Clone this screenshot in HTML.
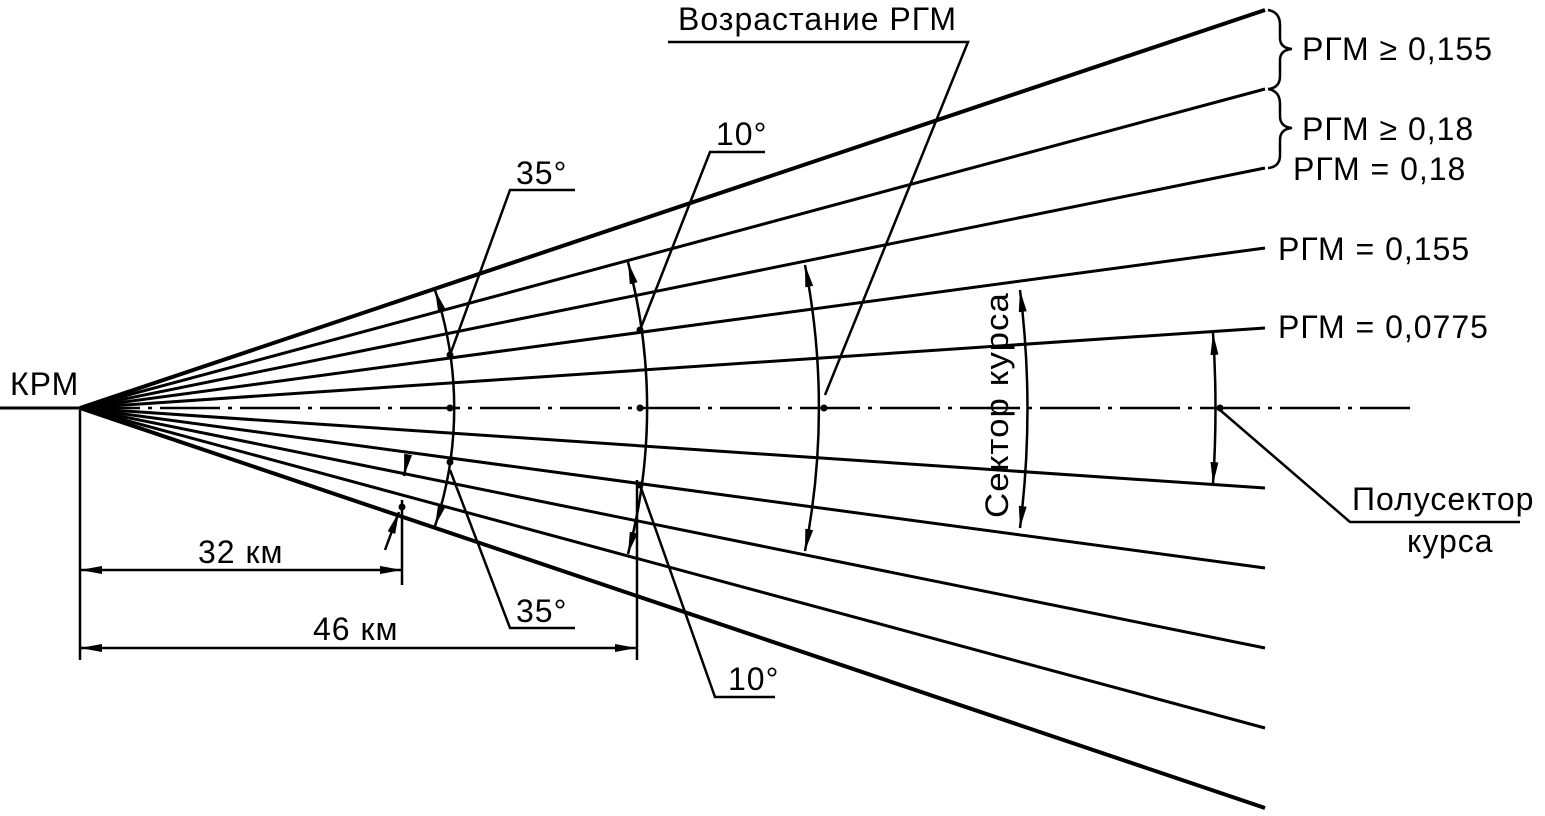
<!DOCTYPE html>
<html><head><meta charset="utf-8"><style>
html,body{margin:0;padding:0;background:#fff;width:1545px;height:816px;overflow:hidden}
text{font-family:"Liberation Sans","DejaVu Sans",sans-serif;font-size:32px;letter-spacing:1px;fill:#000}
</style></head><body>
<svg width="1545" height="816" viewBox="0 0 1545 816" xmlns="http://www.w3.org/2000/svg">
<defs>
<marker id="a" viewBox="0 0 22 8" refX="22" refY="4" markerWidth="22" markerHeight="8" markerUnits="userSpaceOnUse" orient="auto-start-reverse"><path d="M0,0 L22,4 L0,8 z" fill="#000"/></marker>
</defs>
<g stroke="#000" fill="none">
<line x1="0" y1="408" x2="80" y2="408" stroke-width="3"/>
<line x1="80" y1="408" x2="1265" y2="10" stroke-width="4"/>
<line x1="80" y1="408" x2="1265" y2="89" stroke-width="3"/>
<line x1="80" y1="408" x2="1265" y2="168" stroke-width="3"/>
<line x1="80" y1="408" x2="1265" y2="248" stroke-width="3"/>
<line x1="80" y1="408" x2="1265" y2="328" stroke-width="3"/>
<line x1="80" y1="408" x2="1265" y2="488" stroke-width="3"/>
<line x1="80" y1="408" x2="1265" y2="568" stroke-width="3"/>
<line x1="80" y1="408" x2="1265" y2="648" stroke-width="3"/>
<line x1="80" y1="408" x2="1265" y2="728" stroke-width="3"/>
<line x1="80" y1="408" x2="1265" y2="808" stroke-width="4"/>
<line x1="80" y1="408" x2="1410" y2="408" stroke-width="2.5" stroke-dasharray="60,8,4,8"/>
<path d="M435,290 A372,372 0 0 1 435,526" stroke-width="2.5" marker-start="url(#a)" marker-end="url(#a)"/>
<path d="M628,262 A567,567 0 0 1 628,554" stroke-width="2.5" marker-start="url(#a)" marker-end="url(#a)"/>
<path d="M805,265 A742,742 0 0 1 805,551" stroke-width="2.5" marker-start="url(#a)" marker-end="url(#a)"/>
<path d="M1020,290 A955,955 0 0 1 1020,528" stroke-width="2.5" marker-start="url(#a)" marker-end="url(#a)"/>
<path d="M1213,333 A1140,1140 0 0 1 1213,484" stroke-width="2.5" marker-start="url(#a)" marker-end="url(#a)"/>
<polyline points="575,190 510,190 450,355" stroke-width="2.5"/>
<polyline points="575,628 510,628 450,470" stroke-width="2.5"/>
<polyline points="765,152 710,152 640,330" stroke-width="2.5"/>
<polyline points="775,697 715,697 640,485" stroke-width="2.5"/>
<polyline points="668,42 968,42 825,395" stroke-width="2.5"/>
<polyline points="1220,410 1350,522 1520,522" stroke-width="2.5"/>
<line x1="80" y1="410" x2="80" y2="660" stroke-width="2.5"/>
<line x1="402" y1="500" x2="402" y2="585" stroke-width="2.5"/>
<line x1="637" y1="480" x2="637" y2="660" stroke-width="2.5"/>
<line x1="80" y1="570" x2="402" y2="570" stroke-width="2.5" marker-start="url(#a)" marker-end="url(#a)"/>
<line x1="80" y1="648" x2="637" y2="648" stroke-width="2.5" marker-start="url(#a)" marker-end="url(#a)"/>
<line x1="408" y1="455" x2="404" y2="476" stroke-width="2.5" marker-end="url(#a)"/>
<line x1="385" y1="550" x2="399" y2="512" stroke-width="2.5" marker-end="url(#a)"/>
<path d="M1268,10 Q1280,12 1280,25 L1280,38 Q1280,48 1292,49 Q1280,50 1280,60 L1280,76 Q1280,88 1268,89" stroke-width="2.5"/>
<path d="M1268,89 Q1280,91 1280,104 L1280,116 Q1280,127 1292,128 Q1280,129 1280,140 L1280,155 Q1280,167 1268,168" stroke-width="2.5"/>
</g>
<circle cx="450" cy="355" r="3.5"/><circle cx="450" cy="408" r="3.5"/><circle cx="450" cy="462" r="3.5"/>
<circle cx="640" cy="330" r="3.5"/><circle cx="640" cy="408" r="3.5"/><circle cx="640" cy="485" r="3.5"/>
<circle cx="824" cy="408" r="3.5"/><circle cx="1220" cy="408" r="3.5"/><circle cx="402" cy="507" r="3.5"/>
<text x="10" y="395">КРМ</text>
<text x="678" y="30">Возрастание РГМ</text>
<text x="516" y="184">35°</text>
<text x="516" y="622">35°</text>
<text x="716" y="145">10°</text>
<text x="728" y="690">10°</text>
<text x="198" y="563">32 км</text>
<text x="313" y="640">46 км</text>
<text x="1302" y="60">РГМ ≥ 0,155</text>
<text x="1302" y="140">РГМ ≥ 0,18</text>
<text x="1293" y="180">РГМ = 0,18</text>
<text x="1278" y="260">РГМ = 0,155</text>
<text x="1278" y="338">РГМ = 0,0775</text>
<text x="1352" y="510">Полусектор</text>
<text x="1407" y="552">курса</text>
<text transform="translate(1008,518) rotate(-90)" textLength="226" lengthAdjust="spacingAndGlyphs">Сектор курса</text>
</svg>
</body></html>
